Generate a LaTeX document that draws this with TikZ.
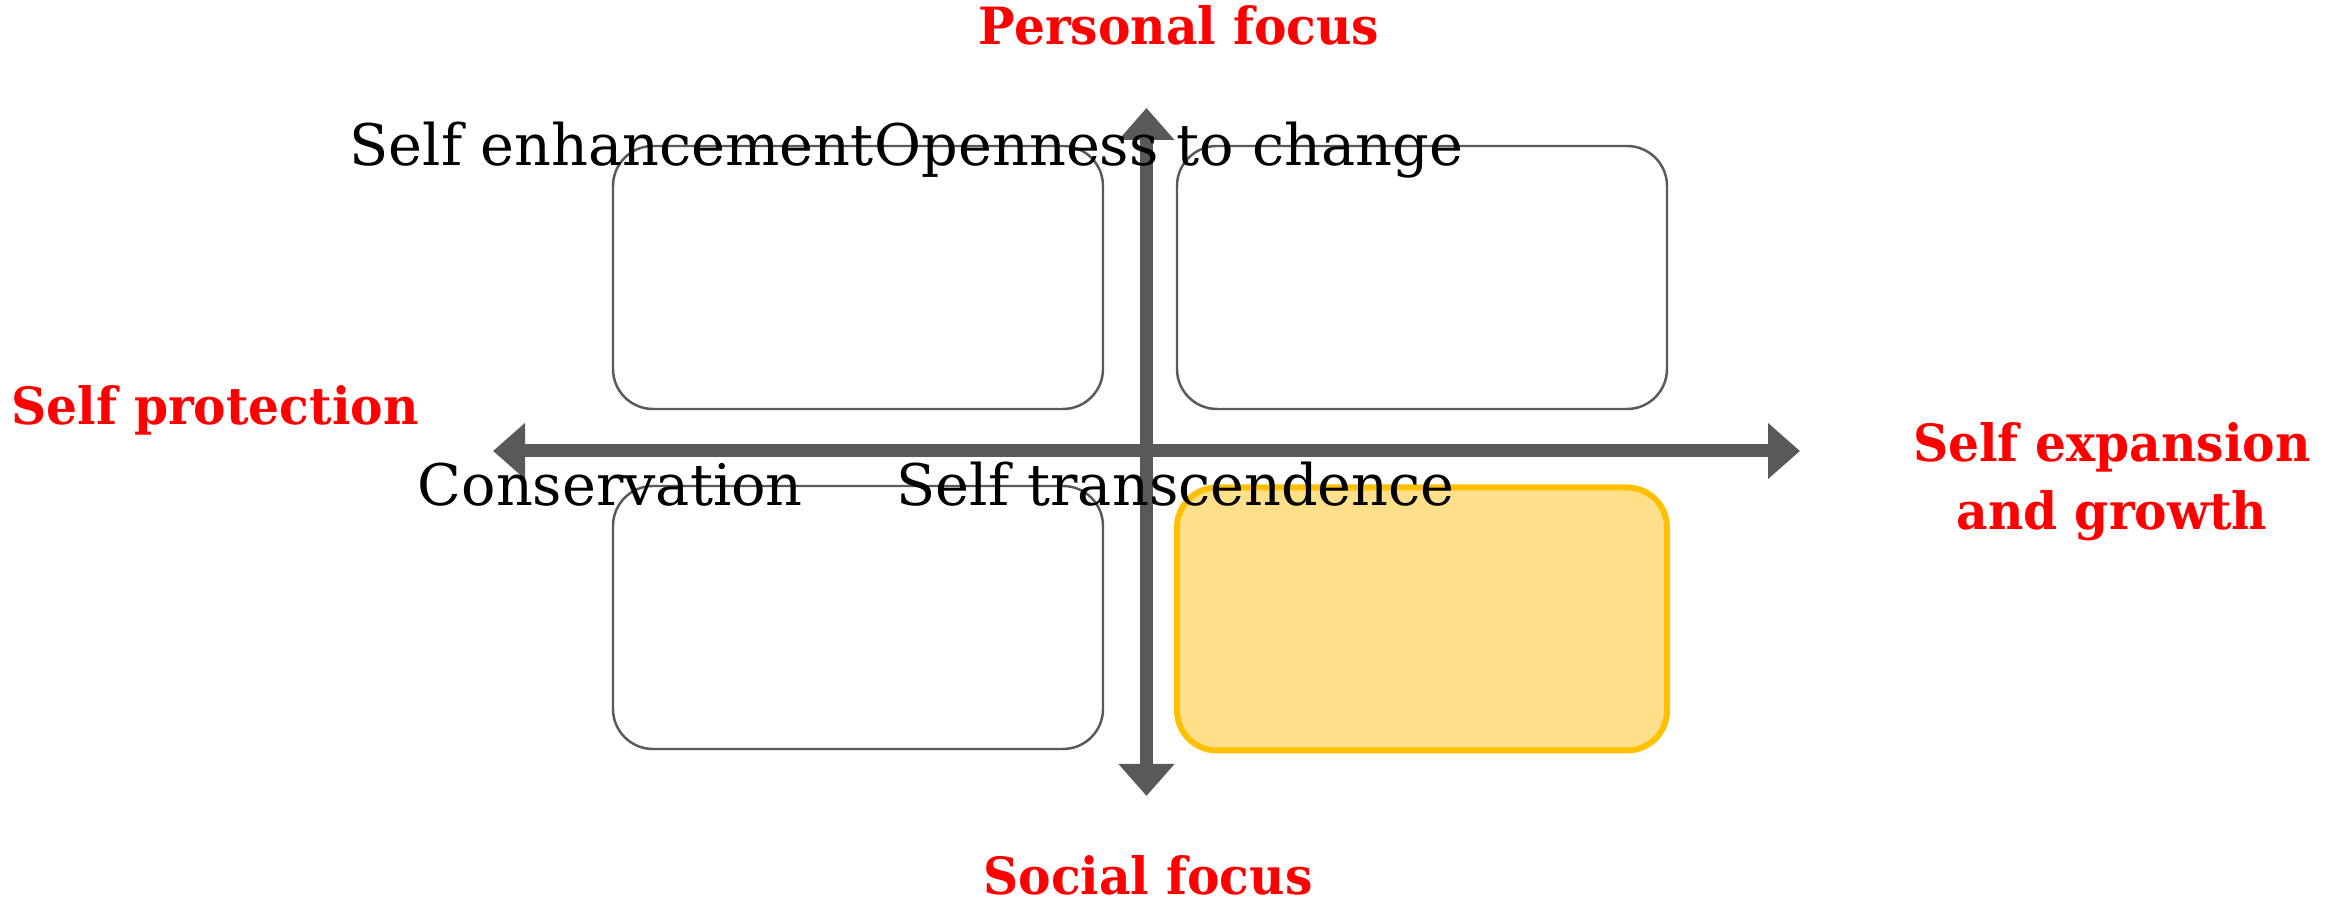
\documentclass[tikz,border=0pt]{standalone}
\usepackage{fontspec}
\setmainfont{DejaVu Serif}
\newfontfamily\axisfont[FakeStretch=0.95]{DejaVu Serif}
\usetikzlibrary{arrows.meta}
\definecolor{axisgray}{HTML}{595959}
\definecolor{boxgold}{HTML}{FFC000}
\definecolor{boxfill}{HTML}{FFE08A}
\begin{document}
\begin{tikzpicture}
        \tikzset{quad/.style={draw=axisgray,line width=0.7pt,rounded corners=0.4cm,minimum width=4.9cm,minimum height=2.63cm},
                 axis/.style={axisgray,line width=0.13cm,{Triangle[width=0.54cm,length=0.32cm]}-{Triangle[width=0.54cm,length=0.32cm]}},
                 lbl/.style={font=\fontsize{16.3}{18}\selectfont,inner sep=0pt},
                 pole/.style={text=red,font=\axisfont\bfseries\fontsize{14.6}{19.4}\selectfont,inner sep=0pt,align=center}};
        \useasboundingbox (0,0) rectangle (23.43,9.07);
        % quadrants
        \node[quad] (enh) at (8.58,6.295) {};
        \node[quad] (open) at (14.22,6.295) {};
        \node[quad] (cons) at (8.58,2.895) {};
        \node[quad,draw=boxgold,line width=1.7pt,fill=boxfill] (trans) at (14.22,2.88) {};
        % axes
        \coordinate (west) at (4.93,4.56);
        \coordinate (east) at (18.00,4.56);
        \coordinate (north) at (11.465,7.99);
        \coordinate (south) at (11.465,1.11);
        \draw[axis] (west) -- (east);
        \draw[axis] (south) -- (north);
        % quadrant titles
        \node[lbl,anchor=base east] (enhT) at (8.74,7.41) {Self enhancement};
        \node[lbl,anchor=base west] (openT) at (8.74,7.41) {Openness to change};
        \node[lbl,anchor=base west] (consT) at (4.17,4.01) {Conservation};
        \node[lbl,anchor=base west] (transT) at (8.96,4.01) {Self transcendence};
        % poles
        \node[pole,anchor=base] (pers) at (11.79,8.62) {Personal focus};
        \node[pole,anchor=base] (soc) at (11.48,0.12) {Social focus};
        \node[pole,anchor=base] (prot) at (2.15,4.82) {Self protection};
        \node[pole] (grow) at (21.12,4.25) {Self expansion\\and growth};
\end{tikzpicture}
\end{document}
